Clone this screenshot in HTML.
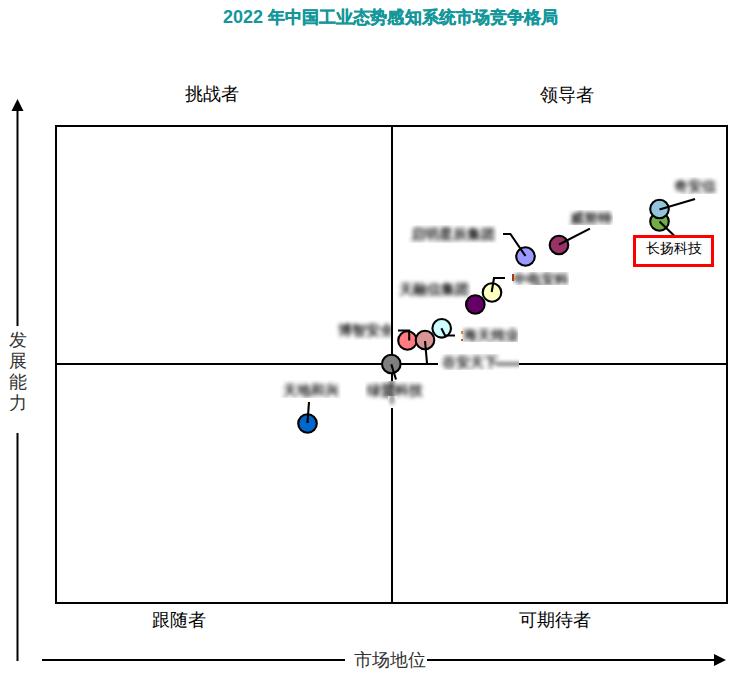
<!DOCTYPE html>
<html><head><meta charset="utf-8">
<style>
html,body{margin:0;padding:0;background:#fff;}
body{width:754px;height:692px;overflow:hidden;position:relative;font-family:"Liberation Sans",sans-serif;}
svg{position:absolute;left:0;top:0;}
.t{position:absolute;white-space:nowrap;line-height:1;color:#000;}
.title{left:223px;top:8px;font-size:18px;font-weight:bold;color:#14979a;}
.title b{font-size:16.5px;letter-spacing:0.06px;-webkit-text-stroke:0.35px #14979a;position:relative;top:0px;}
.q{font-size:18px;}
.lb{position:absolute;background:#fff;z-index:2;overflow:hidden;}
.lbi{position:absolute;left:0;top:0;right:0;bottom:0;filter:blur(2.3px);}
.lb span{position:absolute;white-space:nowrap;font-size:14px;line-height:1;color:#000;font-weight:normal;-webkit-text-stroke:0.35px #000;}
.lb i{position:absolute;background:#000;}
.tk{position:absolute;width:1.5px;z-index:2;}
.rb{position:absolute;left:633px;top:235px;width:75px;height:26px;border:3px solid #ff0000;background:#fff;font-size:14px;line-height:20px;text-align:center;z-index:4;}
</style></head>
<body>
<div class="t title">2022 <b>年中国工业态势感知系统市场竞争格局</b></div>
<div class="t q" style="left:185px;top:85px;">挑战者</div>
<div class="t q" style="left:540px;top:86px;">领导者</div>
<div class="t q" style="left:152px;top:611px;">跟随者</div>
<div class="t q" style="left:519px;top:611px;">可期待者</div>
<div class="t q" style="left:354px;top:651px;color:#333;">市场地位</div>
<div class="t q" style="color:#333;left:9px;top:329.5px;width:18px;white-space:normal;line-height:21.3px;">发展能力</div>

<svg width="754" height="692" viewBox="0 0 754 692">
  <line x1="17.5" y1="108" x2="17.5" y2="326" stroke="#000" stroke-width="2"/>
  <line x1="17.5" y1="433" x2="17.5" y2="661" stroke="#000" stroke-width="2"/>
  <polygon points="17.5,99 11.5,111 23.5,111" fill="#000"/>
  <line x1="42" y1="660" x2="345" y2="660" stroke="#000" stroke-width="2"/>
  <line x1="427" y1="660" x2="716" y2="660" stroke="#000" stroke-width="2"/>
  <polygon points="726,660 714,654 714,666" fill="#000"/>
  <rect x="56" y="126" width="671" height="477" fill="none" stroke="#000" stroke-width="2"/>
  <line x1="392" y1="126" x2="392" y2="603" stroke="#000" stroke-width="2"/>
  <line x1="56" y1="364" x2="727" y2="364" stroke="#000" stroke-width="2"/>
</svg>
<div class="lb" style="left:671px;top:177px;width:49px;height:17px;"><div class="lbi"><span style="left:3px;top:2px">奇安信</span></div></div>
<div class="lb" style="left:567px;top:210px;width:46px;height:15px;"><div class="lbi"><span style="left:3px;top:1px">威努特</span></div></div>
<div class="lb" style="left:408px;top:225px;width:89px;height:18px;"><div class="lbi"><span style="left:3px;top:2px">启明星辰集团</span></div></div>
<div class="lb" style="left:513px;top:272px;width:56px;height:13px;"><div class="lbi"><span style="left:0px;top:0px">中电安科</span></div></div>
<div class="lb" style="left:396px;top:277px;width:75px;height:24px;"><div class="lbi"><span style="left:3px;top:5px">天融信集团</span></div></div>
<div class="lb" style="left:334px;top:320px;width:57px;height:20px;"><div class="lbi"><span style="left:4px;top:3px">博智安全</span></div></div>
<div class="lb" style="left:462px;top:326px;width:56px;height:16px;"><div class="lbi"><span style="left:1px;top:2px">海天炜业</span></div></div>
<div class="lb" style="left:438px;top:354px;width:81px;height:16px;"><div class="lbi"><i style="left:58px;top:9px;width:30px;height:2px;"></i><span style="left:4px;top:1px">谷安天下</span></div></div>
<div class="lb" style="left:365px;top:381px;width:61px;height:21px;"><div class="lbi"><i style="left:26px;top:-4px;width:2px;height:30px;"></i><span style="left:2px;top:2px">绿盟科技</span></div></div>
<div class="lb" style="left:388px;top:396px;width:9px;height:12px;"><div class="lbi"><i style="left:3px;top:-6px;width:2px;height:14px;"></i><span style="left:0px;top:0px"></span></div></div>
<div class="lb" style="left:279px;top:380px;width:62px;height:18px;"><div class="lbi"><span style="left:4px;top:3px">天地和兴</span></div></div>
<svg width="754" height="692" viewBox="0 0 754 692" style="z-index:3">
 <g stroke="#000" stroke-width="2.1">
  <circle cx="307.5" cy="423.5" r="9.3" fill="#0066cc"/><path d="M307.5 423 L309 402" fill="none"/>
  <circle cx="391.3" cy="364" r="9.3" fill="#7f7f7f"/><path d="M391.3 364.3 L396 379.5" fill="none"/>
  <circle cx="407.5" cy="340.5" r="9.3" fill="#ff7c80"/><path d="M409.2 340.5 L409.2 330.5 L398 330.5" fill="none"/>
  <circle cx="425" cy="340" r="9.3" fill="#d99594"/><path d="M425 341 L427 363" fill="none"/>
  <circle cx="441.7" cy="328.3" r="9.3" fill="#ccffff"/><path d="M441.4 328.3 L445 335.5 L455 335.5" fill="none"/>
  <circle cx="492" cy="292.5" r="9.3" fill="#ffffc0"/><path d="M491.7 292 L494 278 L505 278" fill="none"/>
  <circle cx="475.3" cy="304.5" r="9.3" fill="#660066"/>
  <circle cx="525.5" cy="256.5" r="9.3" fill="#9999ff"/><path d="M525.5 256 L510.4 234 L503 234" fill="none"/>
  <circle cx="559" cy="245" r="9.3" fill="#993366"/><path d="M559 244.5 L589.9 228.6" fill="none"/>
  <circle cx="659.5" cy="221.5" r="9.3" fill="#70ad47"/><path d="M659.5 221.5 L674 235.5" fill="none"/>
  <circle cx="659.5" cy="209" r="9.3" fill="#92c4dc"/><path d="M659.5 209.5 L695 199" fill="none"/>
 </g>
</svg>
<i class="tk" style="left:512px;top:274px;height:7px;background:#a83c00;"></i><i class="tk" style="left:461px;top:331px;height:3px;background:#e08a20;"></i><i class="tk" style="left:461px;top:339px;height:2px;background:#c06020;"></i>
<div class="rb">长扬科技</div>
</body></html>
